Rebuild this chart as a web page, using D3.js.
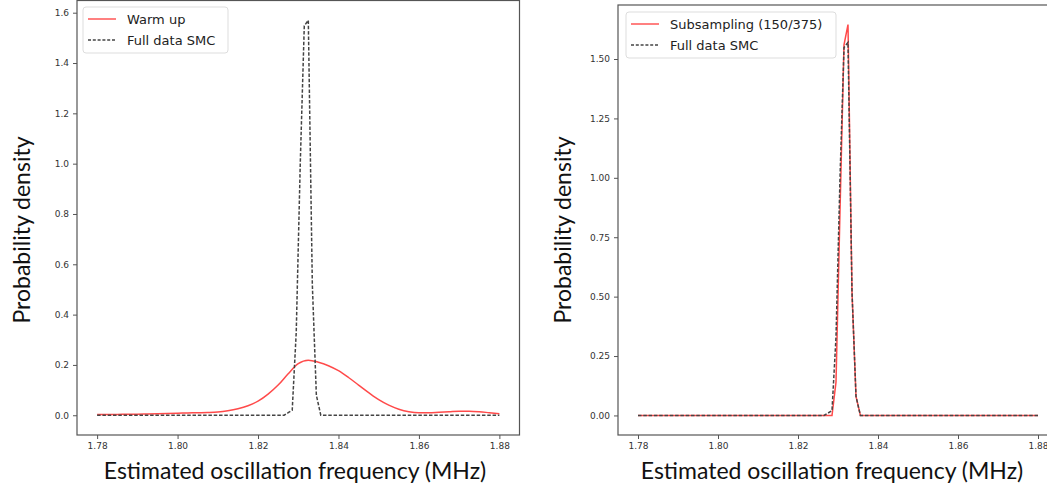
<!DOCTYPE html>
<html><head><meta charset="utf-8">
<script src="https://cdn.jsdelivr.net/npm/d3@7"></script>
<style>body{margin:0;background:#fff}svg{display:block}</style>
</head><body><svg id="c" width="1047" height="495"></svg>
<script>
// ---- data ----
// Full data SMC density (same in both panels)
const fullFreq = [1.78, 1.8265, 1.8275, 1.8285, 1.8295, 1.8305, 1.8315, 1.8325, 1.8335, 1.8345, 1.8356, 1.88];
const fullDens = [0.0, 0.0, 0.01, 0.02, 0.33, 1.0, 1.548, 1.57, 0.52, 0.08, 0.0, 0.0];
// Warm up density
const warmFreq = [1.78,1.7825,1.785,1.7875,1.79,1.7925,1.795,1.7975,1.80,1.8025,1.805,1.8075,1.81,1.8125,1.815,1.8175,1.82,1.8225,1.825,1.8275,1.83,1.8325,1.835,1.8375,1.84,1.8425,1.845,1.8475,1.85,1.8525,1.855,1.8575,1.86,1.8625,1.865,1.8675,1.87,1.8725,1.875,1.8775,1.88];
const warmDens = [0.003,0.003,0.003,0.004,0.004,0.005,0.006,0.007,0.008,0.009,0.010,0.011,0.013,0.018,0.026,0.038,0.056,0.084,0.120,0.165,0.205,0.219,0.211,0.197,0.177,0.150,0.120,0.090,0.062,0.040,0.024,0.014,0.010,0.010,0.012,0.014,0.016,0.016,0.014,0.010,0.006];
// Subsampling (150/375) density
const subFreq = [1.78, 1.8285, 1.8295, 1.8305, 1.8315, 1.8325, 1.8335, 1.8345, 1.8356, 1.88];
const subDens = [0.0, 0.0, 0.14, 0.86, 1.56, 1.645, 0.52, 0.08, 0.0, 0.0];
const xTicks = [1.78, 1.80, 1.82, 1.84, 1.86, 1.88];
const yTicksLeft = [0.0, 0.2, 0.4, 0.6, 0.8, 1.0, 1.2, 1.4, 1.6];
const yTicksRight = [0.0, 0.25, 0.5, 0.75, 1.0, 1.25, 1.5];
const xTitle = "Estimated oscillation frequency (MHz)";
const yTitle = "Probability density";

const svg = d3.select("#c");
svg.append("rect").attr("width",1047).attr("height",495).attr("fill","#fff");

function zip(xs, ys){ return xs.map((x,i)=>({x, y: ys[i]})); }

function panel(opt){
  const g = svg.append("g");
  const x = d3.scaleLinear().domain([1.775, 1.885]).range([opt.left, opt.right]);
  const y = d3.scaleLinear().domain(opt.ydom).range([opt.bottom, opt.top]);
  const clipId = "clip"+opt.id;
  svg.append("clipPath").attr("id", clipId).append("rect")
    .attr("x", opt.left).attr("y", opt.top).attr("width", opt.right-opt.left).attr("height", opt.bottom-opt.top);

  const plot = g.append("g").attr("clip-path", `url(#${clipId})`);
  opt.series.forEach(s=>{
    const line = d3.line().x(d=>x(d.x)).y(d=>y(d.y));
    if (s.curve) line.curve(s.curve);
    plot.append("path").datum(s.data)
      .attr("d", line)
      .attr("fill","none").attr("stroke", s.color).attr("stroke-width", 1.5)
      .attr("stroke-dasharray", s.dash || null);
  });

  // spines
  g.append("rect").attr("x", opt.left).attr("y", opt.top)
    .attr("width", opt.right-opt.left).attr("height", opt.bottom-opt.top)
    .attr("fill","none").attr("stroke","#555").attr("stroke-width",1.2);

  const xa = g.append("g").attr("transform",`translate(0,${opt.bottom})`)
    .call(d3.axisBottom(x).tickValues(xTicks).tickFormat(d3.format(".2f")).tickSize(4).tickPadding(4));
  const ya = g.append("g").attr("transform",`translate(${opt.left},0)`)
    .call(d3.axisLeft(y).tickValues(opt.yticks).tickFormat(d3.format(opt.yfmt)).tickSize(4).tickPadding(4));
  [xa, ya].forEach(a=>{
    a.select(".domain").remove();
    a.selectAll("line").attr("stroke","#555");
    a.selectAll("text").attr("fill","#333").style("font-family","DejaVu Sans").style("font-size","9px");
  });

  g.append("text").attr("x", opt.xlabelX).attr("y", 479).attr("text-anchor","middle")
    .style("font-family","Lato").style("font-size","23px").attr("fill","#111").text(xTitle);
  g.append("text").attr("transform",`translate(${opt.ylabelX},230) rotate(-90)`).attr("text-anchor","middle")
    .style("font-family","Lato").style("font-size","23px").attr("fill","#111").text(yTitle);

  // legend
  const L = opt.legend;
  g.append("rect").attr("x", L.x).attr("y", L.y).attr("width", L.w).attr("height", 46).attr("rx",3)
    .attr("fill","#fff").attr("fill-opacity",0.85).attr("stroke","#ddd").attr("stroke-width",1);
  L.items.forEach((it,i)=>{
    const cy = L.y + 12 + i*21;
    g.append("line").attr("x1", L.x+5).attr("x2", L.x+33).attr("y1", cy).attr("y2", cy)
      .attr("stroke", it.color).attr("stroke-width",1.4).attr("stroke-dasharray", it.dash || null);
    g.append("text").attr("x", L.x+44).attr("y", cy+4.5).style("font-family","DejaVu Sans")
      .style("font-size","13px").attr("fill","#222").text(it.label);
  });
}

const red = "#ff4a4a", dark = "#444";
panel({
  id:"L", left:77, right:519.5, top:0.5, bottom:435, ydom:[-0.0785, 1.6485],
  yticks:yTicksLeft, yfmt:".1f", xlabelX:295, ylabelX:30,
  series:[
    {data: zip(warmFreq, warmDens), color: red, curve: d3.curveMonotoneX},
    {data: zip(fullFreq, fullDens), color: dark, dash:"3.5,1.8"}
  ],
  legend:{x:83, y:7, w:145, items:[{label:"Warm up", color:red},{label:"Full data SMC", color:dark, dash:"3,1.8"}]}
});
panel({
  id:"R", left:618, right:1058, top:5, bottom:435, ydom:[-0.0823, 1.7273],
  yticks:yTicksRight, yfmt:".2f", xlabelX:832, ylabelX:571,
  series:[
    {data: zip(subFreq, subDens), color: red},
    {data: zip(fullFreq, fullDens), color: dark, dash:"3.5,1.8"}
  ],
  legend:{x:626, y:12, w:210, items:[{label:"Subsampling (150/375)", color:red},{label:"Full data SMC", color:dark, dash:"3,1.8"}]}
});
</script></body></html>
